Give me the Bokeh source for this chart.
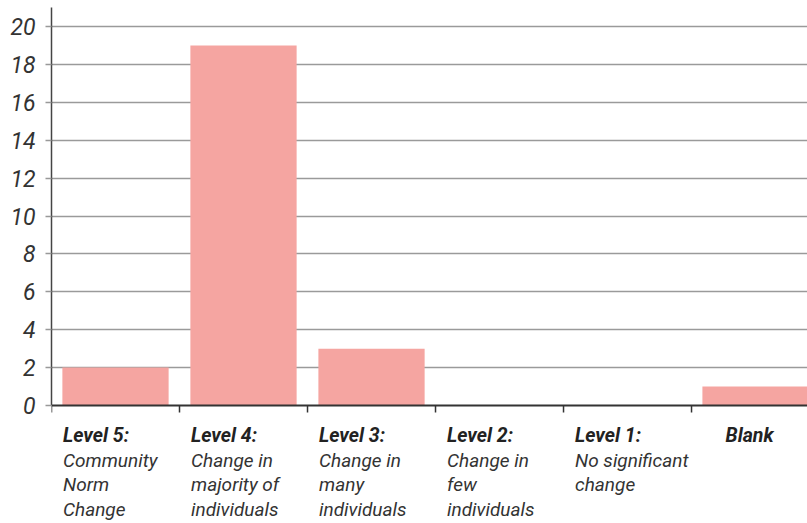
from bokeh.plotting import figure
from bokeh.models import FixedTicker
from bokeh.core.properties import value
from bokeh.embed import file_html
from bokeh.resources import INLINE

# Survey responses per level of change
headings = ["Level 5:", "Level 4:", "Level 3:", "Level 2:", "Level 1:", "Blank"]
descriptions = [
    ["Community", "Norm", "Change"],
    ["Change in", "majority of", "individuals"],
    ["Change in", "many", "individuals"],
    ["Change in", "few", "individuals"],
    ["No significant", "change"],
    [],
]
counts = [2, 19, 3, 0, 0, 1]
y_ticks = list(range(0, 21, 2))

FONT = "Roboto"
BAR_COLOR = "#F5A5A1"

n = len(counts)
centers = [i + 0.5 for i in range(n)]

# vertical layout in pixels
W, H = 807, 523
top_px, zero_px = 7, 405          # frame top and baseline of the bars
px_per_unit = 18.95
y_end = (zero_px - top_px) / px_per_unit
y_start = -(H - zero_px) / px_per_unit

p = figure(
    width=W, height=H,
    x_range=(0, 5.906), y_range=(y_start, y_end),
    x_axis_location=None,
    output_backend="svg", toolbar_location=None,
    min_border_left=51, min_border_right=0,
    min_border_top=top_px, min_border_bottom=0,
)
p.outline_line_color = None
p.background_fill_color = "white"
p.border_fill_color = "white"

p.vbar(x=centers, top=counts, width=0.83, fill_color=BAR_COLOR,
       line_color=None)

# y axis, limited to the value range
ya = p.yaxis[0]
ya.ticker = FixedTicker(ticks=y_ticks)
ya.bounds = (0, y_end)
ya.axis_line_color = "#444444"
ya.axis_line_width = 1.5
ya.major_tick_out = 6
ya.major_tick_in = 0
ya.major_tick_line_color = "#999999"
ya.major_tick_line_width = 1.5
ya.minor_tick_line_color = None
ya.major_label_standoff = 10
ya.major_label_text_font = FONT
ya.major_label_text_font_style = "italic"
ya.major_label_text_font_size = "23px"
ya.major_label_text_color = "#333333"

p.xgrid.grid_line_color = None
p.ygrid.grid_line_color = "#9a9a9a"
p.ygrid.grid_line_width = 1.5
p.ygrid.ticker = FixedTicker(ticks=y_ticks[1:])
p.ygrid.bounds = (0, y_end)

# baseline with tick marks on the category boundaries
boundaries = list(range(0, n))
tick_len = 7 / px_per_unit
p.segment(x0=[0], y0=[0], x1=[n], y1=[0], line_color="#333333",
          line_width=2)
p.segment(x0=boundaries, y0=[0] * len(boundaries), x1=boundaries,
          y1=[-tick_len] * len(boundaries), line_color="#333333",
          line_width=1.5)

# category labels under the baseline
line_pitch = 24.5
first_baseline = 30
hx, hy, hl, dx, dy, dt = [], [], [], [], [], []
for i, (head, desc) in enumerate(zip(headings, descriptions)):
    x = i + (0.09 if desc else 0.266)
    hx.append(x)
    hy.append(-first_baseline / px_per_unit)
    hl.append(head)
    for k, line in enumerate(desc):
        dx.append(x)
        dy.append(-(first_baseline + line_pitch * (k + 1)) / px_per_unit)
        dt.append(line)

p.text(x=hx, y=hy, text=hl, text_align="left",
       text_baseline="alphabetic", text_font=value(FONT),
       text_font_style="bold italic", text_font_size="19.5px",
       text_color="#222222")
p.text(x=dx, y=dy, text=dt, text_align="left",
       text_baseline="alphabetic", text_font=value(FONT),
       text_font_style="italic", text_font_size="19px",
       text_color="#333333")

open("out.html", "w").write(file_html(p, INLINE))
